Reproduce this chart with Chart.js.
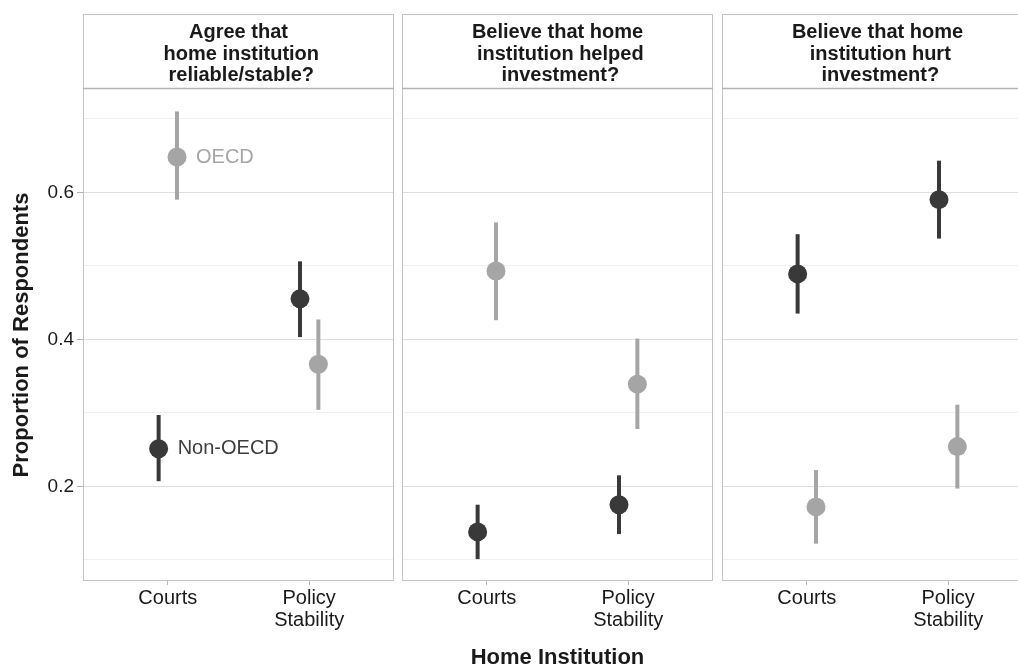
<!DOCTYPE html>
<html>
<head>
<meta charset="utf-8">
<script src="https://cdn.jsdelivr.net/npm/chart.js@4"></script>
<style>
  html, body { margin:0; padding:0; background:#fff; overflow:hidden; width:1018px; height:669px; }
  canvas { position:absolute; top:0; }
</style>
</head>
<body>
<canvas id="p0" width="400" height="669" style="left:0"></canvas>
<canvas id="p1" width="323" height="669" style="left:396px"></canvas>
<canvas id="p2" width="323" height="669" style="left:716px"></canvas>
<script>
// facet strips
const stripLabels = [
  ['Agree that', ' home institution', ' reliable/stable?'],
  ['Believe that home', ' institution helped', ' investment?'],
  ['Believe that home', ' institution hurt', ' investment?']
];
const categories = [['Courts'], ['Policy', 'Stability']];
const seriesNames = ['OECD', 'Non-OECD'];

// one row per panel, one value per category
const oecdMean = [[0.648, 0.366], [0.493, 0.339], [0.172, 0.254]];
const oecdLow  = [[0.590, 0.304], [0.426, 0.278], [0.122, 0.197]];
const oecdHigh = [[0.710, 0.427], [0.559, 0.401], [0.222, 0.311]];
const nonMean  = [[0.251, 0.455], [0.138, 0.175], [0.489, 0.590]];
const nonLow   = [[0.207, 0.403], [0.101, 0.135], [0.435, 0.537]];
const nonHigh  = [[0.297, 0.506], [0.175, 0.215], [0.543, 0.643]];

const yTicks  = [0.1, 0.2, 0.3, 0.4, 0.5, 0.6, 0.7];
const yLabels = ['', '0.2', '', '0.4', '', '0.6', ''];
const yMin = 0.0712, yMax = 0.7405;
const yTitle = 'Proportion of Respondents';
const xTitle = 'Home Institution';

const FONT = "'Liberation Sans', Arial, Helvetica, sans-serif";
const DARK = '#393939', LIGHT = '#a5a5a5';
const dodge = 0.065;

const errorBars = {
  id: 'errorBars',
  beforeDatasetsDraw(chart) {
    const { ctx, scales: { x, y } } = chart;
    ctx.save();
    ctx.lineWidth = 4;
    ctx.lineCap = 'butt';
    chart.data.datasets.forEach(ds => {
      ctx.strokeStyle = ds.backgroundColor;
      ds.data.forEach(p => {
        const px = x.getPixelForValue(p.x);
        ctx.beginPath();
        ctx.moveTo(px, y.getPixelForValue(p.lo));
        ctx.lineTo(px, y.getPixelForValue(p.hi));
        ctx.stroke();
      });
    });
    ctx.restore();
  }
};

const strip = {
  id: 'strip',
  afterDraw(chart, args, opts) {
    const { ctx, chartArea: a } = chart;
    const top = 14;
    ctx.save();
    ctx.strokeStyle = '#c4c4c4';
    ctx.lineWidth = 1;
    ctx.strokeRect(a.left + 0.5, top + 0.5, a.right - a.left - 1, a.bottom - top - 1);
    ctx.strokeStyle = '#b4b4b4';
    ctx.lineWidth = 1.5;
    ctx.beginPath();
    ctx.moveTo(a.left, a.top - 0.5);
    ctx.lineTo(a.right, a.top - 0.5);
    ctx.stroke();
    ctx.fillStyle = '#1a1a1a';
    ctx.font = 'bold 20px ' + FONT;
    ctx.textAlign = 'center';
    ctx.textBaseline = 'middle';
    opts.lines.forEach((t, k) => ctx.fillText(t, (a.left + a.right) / 2, 32.4 + k * 21.6));
    ctx.restore();
  }
};

const seriesLabels = {
  id: 'seriesLabels',
  afterDatasetsDraw(chart, args, opts) {
    if (!opts.show) return;
    const { ctx } = chart;
    ctx.save();
    ctx.font = '20px ' + FONT;
    ctx.textAlign = 'left';
    ctx.textBaseline = 'middle';
    chart.data.datasets.forEach((ds, i) => {
      const el = chart.getDatasetMeta(i).data[0];
      ctx.fillStyle = ds.labelColor;
      ctx.fillText(ds.label, el.x + 19, el.y);
    });
    ctx.restore();
  }
};

function makePanel(i) {
  const first = i === 0;
  const datasets = [
    {
      label: seriesNames[1], backgroundColor: DARK, labelColor: '#3d3d3d',
      data: categories.map((c, j) => ({ x: j + 1 - dodge, y: nonMean[i][j], lo: nonLow[i][j], hi: nonHigh[i][j] }))
    },
    {
      label: seriesNames[0], backgroundColor: LIGHT, labelColor: LIGHT,
      data: categories.map((c, j) => ({ x: j + 1 + dodge, y: oecdMean[i][j], lo: oecdLow[i][j], hi: oecdHigh[i][j] }))
    }
  ];
  return new Chart(document.getElementById('p' + i), {
    type: 'scatter',
    data: { datasets },
    plugins: [errorBars, strip, seriesLabels],
    options: {
      responsive: false,
      animation: false,
      events: [],
      layout: { autoPadding: false, padding: { top: 89, bottom: 0, left: first ? 0 : 6, right: 6 } },
      elements: { point: { radius: 9.5, hoverRadius: 9.5, borderWidth: 0 } },
      plugins: {
        legend: { display: false },
        tooltip: { enabled: false },
        strip: { lines: stripLabels[i] },
        seriesLabels: { show: first }
      },
      scales: {
        x: {
          type: 'linear', min: 0.4, max: 2.6,
          afterBuildTicks: s => { s.ticks = categories.map((c, j) => ({ value: j + 1 })); },
          afterFit: s => { s.height = 88; },
          ticks: {
            callback: v => categories[v - 1],
            font: { family: FONT, size: 20, lineHeight: 1.1 },
            color: '#1a1a1a', padding: 2, maxRotation: 0, autoSkip: false
          },
          grid: { drawOnChartArea: false, drawTicks: true, tickLength: 4, tickColor: '#b8b8b8', tickWidth: 1 },
          border: { display: false },
          title: {
            display: i === 1, text: xTitle, color: '#1a1a1a', padding: 0,
            font: { family: FONT, size: 22, weight: 'bold', lineHeight: 1 }
          }
        },
        y: {
          min: yMin, max: yMax,
          afterBuildTicks: s => { s.ticks = yTicks.map(v => ({ value: v })); },
          afterFit: s => { s.width = first ? 83 : 0; },
          ticks: {
            display: first,
            callback: (v, idx) => yLabels[idx],
            font: { family: FONT, size: 19 },
            color: '#1a1a1a', padding: 3
          },
          grid: {
            color: c => yLabels[c.index] ? '#dedede' : '#efefef',
            lineWidth: 1,
            drawTicks: first, tickLength: 6,
            tickColor: c => yLabels[c.index] ? '#b3b3b3' : 'rgba(0,0,0,0)'
          },
          border: { display: false },
          title: {
            display: first, text: yTitle, color: '#1a1a1a', padding: { top: 11, bottom: 0 },
            font: { family: FONT, size: 22, weight: 'bold', lineHeight: 1 }
          }
        }
      }
    }
  });
}

[0, 1, 2].forEach(makePanel);
</script>
</body>
</html>
